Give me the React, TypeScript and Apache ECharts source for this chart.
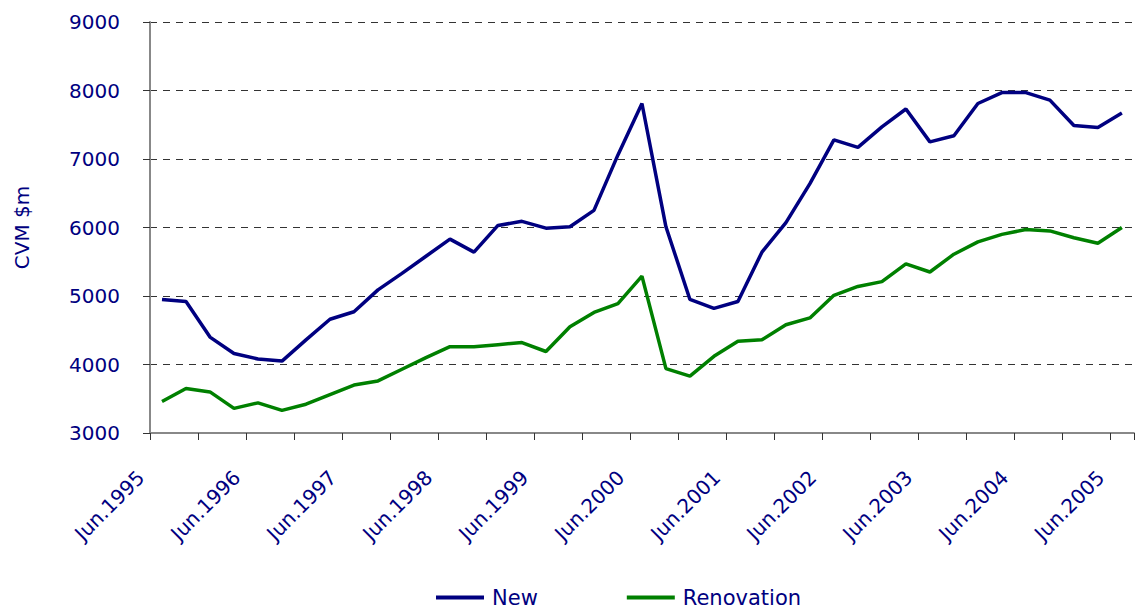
import React, { useEffect, useRef } from 'react';
import * as echarts from 'echarts';

const categories = [
  'Jun.1995', 'Sep.1995', 'Dec.1995',
  'Mar.1996', 'Jun.1996', 'Sep.1996', 'Dec.1996',
  'Mar.1997', 'Jun.1997', 'Sep.1997', 'Dec.1997',
  'Mar.1998', 'Jun.1998', 'Sep.1998', 'Dec.1998',
  'Mar.1999', 'Jun.1999', 'Sep.1999', 'Dec.1999',
  'Mar.2000', 'Jun.2000', 'Sep.2000', 'Dec.2000',
  'Mar.2001', 'Jun.2001', 'Sep.2001', 'Dec.2001',
  'Mar.2002', 'Jun.2002', 'Sep.2002', 'Dec.2002',
  'Mar.2003', 'Jun.2003', 'Sep.2003', 'Dec.2003',
  'Mar.2004', 'Jun.2004', 'Sep.2004', 'Dec.2004',
  'Mar.2005', 'Jun.2005',
];

const tickLabels = [
  'Jun.1995', 'Jun.1996', 'Jun.1997', 'Jun.1998', 'Jun.1999', 'Jun.2000',
  'Jun.2001', 'Jun.2002', 'Jun.2003', 'Jun.2004', 'Jun.2005',
];

const newValues = [
  4950, 4920, 4400, 4160, 4080, 4050, 4360, 4660, 4770, 5090,
  5330, 5580, 5830, 5640, 6030, 6090, 5990, 6010, 6250, 7060,
  7810, 6010, 4950, 4820, 4920, 5640, 6070, 6640, 7280, 7170,
  7470, 7730, 7250, 7340, 7810, 7970, 7970, 7860, 7490, 7460,
  7670,
];

const renovationValues = [
  3460, 3650, 3600, 3360, 3440, 3330, 3420, 3560, 3700, 3760,
  3930, 4100, 4260, 4260, 4290, 4320, 4190, 4550, 4760, 4890,
  5290, 3940, 3830, 4120, 4340, 4360, 4580, 4680, 5010, 5140,
  5210, 5470, 5350, 5610, 5790, 5900, 5970, 5950, 5850, 5770,
  6000,
];

const FONT = '"DejaVu Sans", Verdana, sans-serif';
const NAVY = '#000080';
const GREEN = '#008000';

export default function App() {
  const ref = useRef<HTMLDivElement>(null);

  useEffect(() => {
    if (!ref.current) return;
    const chart = echarts.init(ref.current, null, { renderer: 'svg' });
    chart.setOption({
      animation: false,
      backgroundColor: '#ffffff',
      grid: { left: 150, right: 0, top: 22, bottom: 181, containLabel: false },
      legend: {
        data: [
          { name: 'New', icon: 'rect' },
          { name: 'Renovation', icon: 'rect' },
        ],
        left: 431,
        top: 582,
        itemWidth: 48,
        itemHeight: 4,
        itemGap: 89,
        textStyle: { color: NAVY, fontSize: 21, fontFamily: FONT, padding: [0, 0, 0, 3] },
      },
      xAxis: [
        {
          type: 'category',
          data: categories,
          boundaryGap: true,
          axisLine: { show: true, lineStyle: { color: '#888888', width: 2 } },
          axisTick: { show: true, interval: 1, length: 7, lineStyle: { color: '#333333', width: 1 } },
          axisLabel: { show: false },
          splitLine: { show: false },
        },
        {
          type: 'value',
          position: 'bottom',
          min: 0,
          max: categories.length,
          interval: 4,
          axisLine: { show: false },
          axisTick: { show: false },
          splitLine: { show: false },
          axisLabel: {
            rotate: 45,
            margin: 32,
            padding: [0, 13, 20, 0],
            color: NAVY,
            fontSize: 20,
            fontFamily: FONT,
            formatter: (v: number) => (v % 4 === 0 && tickLabels[v / 4] ? tickLabels[v / 4] : ''),
          },
        },
      ],
      yAxis: {
        type: 'value',
        min: 3000,
        max: 9000,
        interval: 1000,
        name: 'CVM $m',
        nameLocation: 'middle',
        nameGap: 118,
        nameTextStyle: { color: NAVY, fontSize: 20, fontFamily: FONT },
        axisLine: { show: true, lineStyle: { color: '#888888', width: 2 } },
        axisTick: { show: true, length: 7, lineStyle: { color: '#333333', width: 1 } },
        axisLabel: {
          margin: 30,
          color: NAVY,
          fontSize: 20,
          fontFamily: FONT,
          formatter: (v: number) => String(v),
        },
        splitLine: { show: true, lineStyle: { type: [7, 6], color: '#333333', width: 1 } },
      },
      series: [
        {
          name: 'New',
          type: 'line',
          xAxisIndex: 0,
          data: newValues,
          symbol: 'none',
          showSymbol: false,
          color: NAVY,
          lineStyle: { color: NAVY, width: 3.5 },
        },
        {
          name: 'Renovation',
          type: 'line',
          xAxisIndex: 0,
          data: renovationValues,
          symbol: 'none',
          showSymbol: false,
          color: GREEN,
          lineStyle: { color: GREEN, width: 3.5 },
        },
      ],
    });
    return () => chart.dispose();
  }, []);

  return (
    <div
      ref={ref}
      style={{ position: 'absolute', left: 0, top: 0, width: 1136, height: 614, background: '#fff' }}
    />
  );
}
